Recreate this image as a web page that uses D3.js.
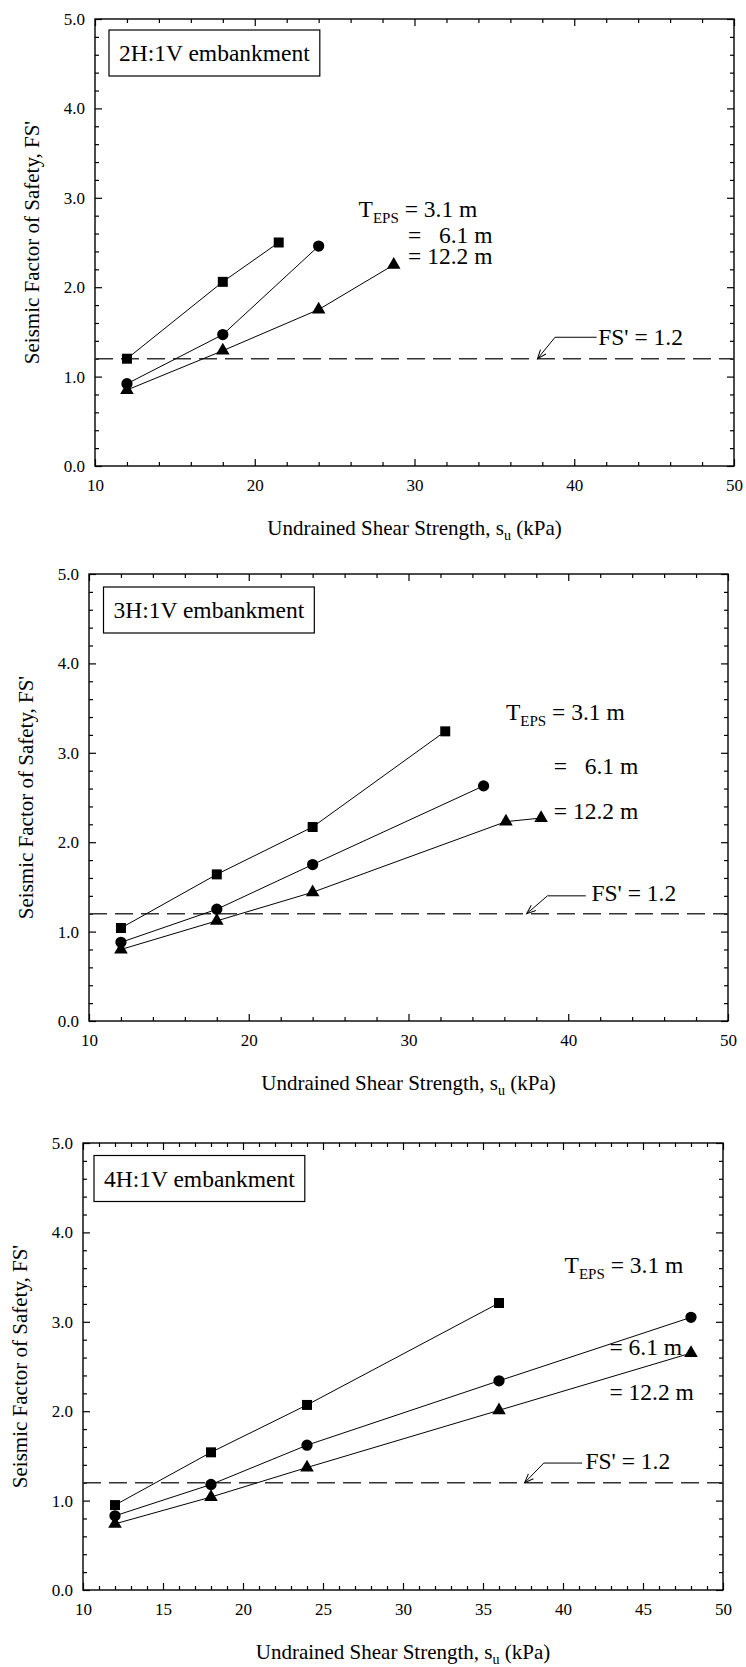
<!DOCTYPE html>
<html lang="en">
<head>
  <meta charset="UTF-8">
  <title>Seismic Factor of Safety vs Undrained Shear Strength</title>
  <script src="https://d3js.org/d3.v7.min.js"></script>
  <style>
    body { margin: 0; background: #fff; }
    svg { display: block; }
    text { font-family: "Liberation Serif", "Times New Roman", Times, serif; fill: #000; }
    .tick line { stroke: #000; stroke-width: 1.2; }
    .tick text { font-size: 17px; }
    .note { font-size: 23.5px; white-space: pre; }
  </style>
</head>
<body>
  <script>
    // undrained shear strength (kPa) and seismic FS' for each embankment / EPS thickness
    const su2H_31 = [12, 18, 21.5];
    const fs2H_31 = [1.20, 2.06, 2.50];
    const su2H_61 = [12, 18, 24];
    const fs2H_61 = [0.92, 1.47, 2.46];
    const su2H_122 = [12, 18, 24, 28.7];
    const fs2H_122 = [0.85, 1.29, 1.75, 2.25];

    const su3H_31 = [12, 18, 24, 32.3];
    const fs3H_31 = [1.04, 1.64, 2.17, 3.24];
    const su3H_61 = [12, 18, 24, 34.7];
    const fs3H_61 = [0.88, 1.25, 1.75, 2.63];
    const su3H_122 = [12, 18, 24, 36.1, 38.3];
    const fs3H_122 = [0.80, 1.12, 1.44, 2.23, 2.27];

    const su4H_31 = [12, 18, 24, 36];
    const fs4H_31 = [0.95, 1.54, 2.07, 3.21];
    const su4H_61 = [12, 18, 24, 36, 48];
    const fs4H_61 = [0.83, 1.18, 1.62, 2.34, 3.05];
    const su4H_122 = [12, 18, 24, 36, 48];
    const fs4H_122 = [0.74, 1.04, 1.37, 2.01, 2.65];

    const titles = ["2H:1V embankment", "3H:1V embankment", "4H:1V embankment"];
    const thicknessLabels = [["= 3.1 m", "=   6.1 m", "= 12.2 m"],
                             ["= 3.1 m", "=   6.1 m", "= 12.2 m"],
                             ["= 3.1 m", "= 6.1 m", "= 12.2 m"]];
    const fsLimit = 1.2;
    const limitLabel = "FS' = 1.2";
    const xDomain = [10, 50];
    const yDomain = [0, 5];

    const W = 746, H = 1667;
    const svg = d3.select("body").append("svg")
      .attr("width", W).attr("height", H)
      .attr("viewBox", [0, 0, W, H]);

    // arrow head for the FS' note
    svg.append("defs").append("marker")
      .attr("id", "arrow")
      .attr("viewBox", "-10 -5 12 10")
      .attr("refX", 0).attr("refY", 0)
      .attr("markerWidth", 12).attr("markerHeight", 10)
      .attr("markerUnits", "userSpaceOnUse")
      .attr("orient", "auto")
      .append("path")
      .attr("d", "M-9,-3.5L0,0L-9,3.5")
      .attr("fill", "none").attr("stroke", "#000").attr("stroke-width", 1);

    const panels = [
      { left: 95, top: 19, width: 639, xMinor: 2, xMajor: 10,
        series: [[su2H_31, fs2H_31], [su2H_61, fs2H_61], [su2H_122, fs2H_122]],
        boxDx: 14, boxDy: 11,
        tLabel: [26.5, 2.79], eqX: 29.6, eqY: [2.49, 2.26],
        note: { tip: [37.7, 1.2], elbow: [38.8, 1.44], end: [41.4, 1.44], text: [41.5, 1.35] } },
      { left: 89, top: 574, width: 639, xMinor: 2, xMajor: 10,
        series: [[su3H_31, fs3H_31], [su3H_61, fs3H_61], [su3H_122, fs3H_122]],
        boxDx: 14.5, boxDy: 13,
        tLabel: [36.1, 3.37], eqX: 39.1, eqY: [2.76, 2.26],
        note: { tip: [37.4, 1.2], elbow: [38.7, 1.40], end: [41.1, 1.40], text: [41.45, 1.34] } },
      { left: 83, top: 1143, width: 640, xMinor: 1, xMajor: 5,
        series: [[su4H_31, fs4H_31], [su4H_61, fs4H_61], [su4H_122, fs4H_122]],
        boxDx: 11, boxDy: 12.5,
        tLabel: [40.1, 3.55], eqX: 42.9, eqY: [2.63, 2.13],
        note: { tip: [37.6, 1.2], elbow: [38.8, 1.42], end: [41.2, 1.42], text: [41.4, 1.35] } }
    ];
    const plotH = 447;
    const symbols = [
      d3.symbol().type(d3.symbolSquare).size(100),
      d3.symbol().type(d3.symbolCircle).size(100),
      d3.symbol().type(d3.symbolTriangle).size(80)
    ];

    panels.forEach((p, i) => {
      const g = svg.append("g").attr("transform", `translate(${p.left},${p.top})`);
      const x = d3.scaleLinear().domain(xDomain).range([0, p.width]);
      const y = d3.scaleLinear().domain(yDomain).range([plotH, 0]);

      const xMajor = d3.range(xDomain[0], xDomain[1] + 0.001, p.xMajor);
      const xMinor = d3.range(xDomain[0], xDomain[1] + 0.001, p.xMinor).filter(v => !xMajor.includes(v));
      const yMajor = d3.range(0, 5.001, 1);
      const yMinor = d3.range(0, 5.001, 0.2).map(v => +v.toFixed(1)).filter(v => v % 1 !== 0);

      // labelled axes, ticks pointing inward
      g.append("g").attr("transform", `translate(0,${plotH})`)
        .call(d3.axisBottom(x).tickValues(xMajor).tickFormat(d3.format("d")).tickSize(-7).tickPadding(13));
      g.append("g")
        .call(d3.axisLeft(y).tickValues(yMajor).tickFormat(d3.format(".1f")).tickSize(-7).tickPadding(10));
      g.append("g").attr("transform", `translate(0,${plotH})`)
        .call(d3.axisBottom(x).tickValues(xMinor).tickFormat("").tickSize(-4));
      g.append("g").call(d3.axisLeft(y).tickValues(yMinor).tickFormat("").tickSize(-4));
      // mirrored ticks on top and right
      g.append("g").call(d3.axisTop(x).tickValues(xMajor).tickFormat("").tickSize(-7));
      g.append("g").call(d3.axisTop(x).tickValues(xMinor).tickFormat("").tickSize(-4));
      g.append("g").attr("transform", `translate(${p.width},0)`)
        .call(d3.axisRight(y).tickValues(yMajor).tickFormat("").tickSize(-7));
      g.append("g").attr("transform", `translate(${p.width},0)`)
        .call(d3.axisRight(y).tickValues(yMinor).tickFormat("").tickSize(-4));
      g.selectAll(".domain").remove();

      g.append("rect")
        .attr("width", p.width).attr("height", plotH)
        .attr("fill", "none").attr("stroke", "#000").attr("stroke-width", 1.4);

      // FS' = 1.2 reference line
      g.append("line")
        .attr("x1", x(xDomain[0])).attr("x2", x(xDomain[1]))
        .attr("y1", y(fsLimit)).attr("y2", y(fsLimit))
        .attr("stroke", "#333").attr("stroke-width", 1.4)
        .attr("stroke-dasharray", "18,8");

      // series
      const line = d3.line().x(d => x(d[0])).y(d => y(d[1]));
      p.series.forEach(([xs, ys], k) => {
        const pts = xs.map((v, j) => [v, ys[j]]);
        g.append("path").datum(pts)
          .attr("d", line).attr("fill", "none")
          .attr("stroke", "#000").attr("stroke-width", 1);
        g.append("g").selectAll("path").data(pts).join("path")
          .attr("transform", d => `translate(${x(d[0])},${y(d[1])})`)
          .attr("d", symbols[k]).attr("fill", "#000");
      });

      // title box
      const tt = g.append("text").attr("class", "note")
        .attr("x", p.boxDx + 10).attr("y", p.boxDy + 31).text(titles[i]);
      const tw = tt.node().getComputedTextLength();
      g.insert("rect", "text.note")
        .attr("x", p.boxDx).attr("y", p.boxDy)
        .attr("width", tw + 20).attr("height", 46)
        .attr("fill", "#fff").attr("stroke", "#000").attr("stroke-width", 1.2);

      // thickness labels
      const tl = g.append("text").attr("class", "note")
        .attr("x", x(p.tLabel[0])).attr("y", y(p.tLabel[1]));
      tl.append("tspan").text("T");
      tl.append("tspan").attr("dy", 6).style("font-size", "15px").text("EPS");
      tl.append("tspan").attr("dy", -6).text(" " + thicknessLabels[i][0]);
      p.eqY.forEach((v, k) => {
        g.append("text").attr("class", "note")
          .attr("x", x(p.eqX)).attr("y", y(v)).text(thicknessLabels[i][k + 1]);
      });

      // FS' note with arrow
      const n = p.note;
      g.append("path")
        .attr("d", d3.line()([[x(n.end[0]), y(n.end[1])], [x(n.elbow[0]), y(n.elbow[1])], [x(n.tip[0]), y(n.tip[1])]]))
        .attr("fill", "none").attr("stroke", "#000").attr("stroke-width", 1)
        .attr("marker-end", "url(#arrow)");
      g.append("text").attr("class", "note")
        .attr("x", x(n.text[0])).attr("y", y(n.text[1])).text(limitLabel);

      // axis titles
      g.append("text")
        .attr("transform", `translate(-63,${plotH / 2}) rotate(-90)`)
        .attr("text-anchor", "middle").attr("dy", "0.35em")
        .style("font-size", "21px")
        .text("Seismic Factor of Safety, FS'");
      const xl = g.append("text")
        .attr("x", p.width / 2).attr("y", plotH + 69)
        .attr("text-anchor", "middle").style("font-size", "21px");
      xl.append("tspan").text("Undrained Shear Strength, s");
      xl.append("tspan").attr("dy", 5).style("font-size", "14px").text("u");
      xl.append("tspan").attr("dy", -5).text(" (kPa)");
    });
  </script>
</body>
</html>
